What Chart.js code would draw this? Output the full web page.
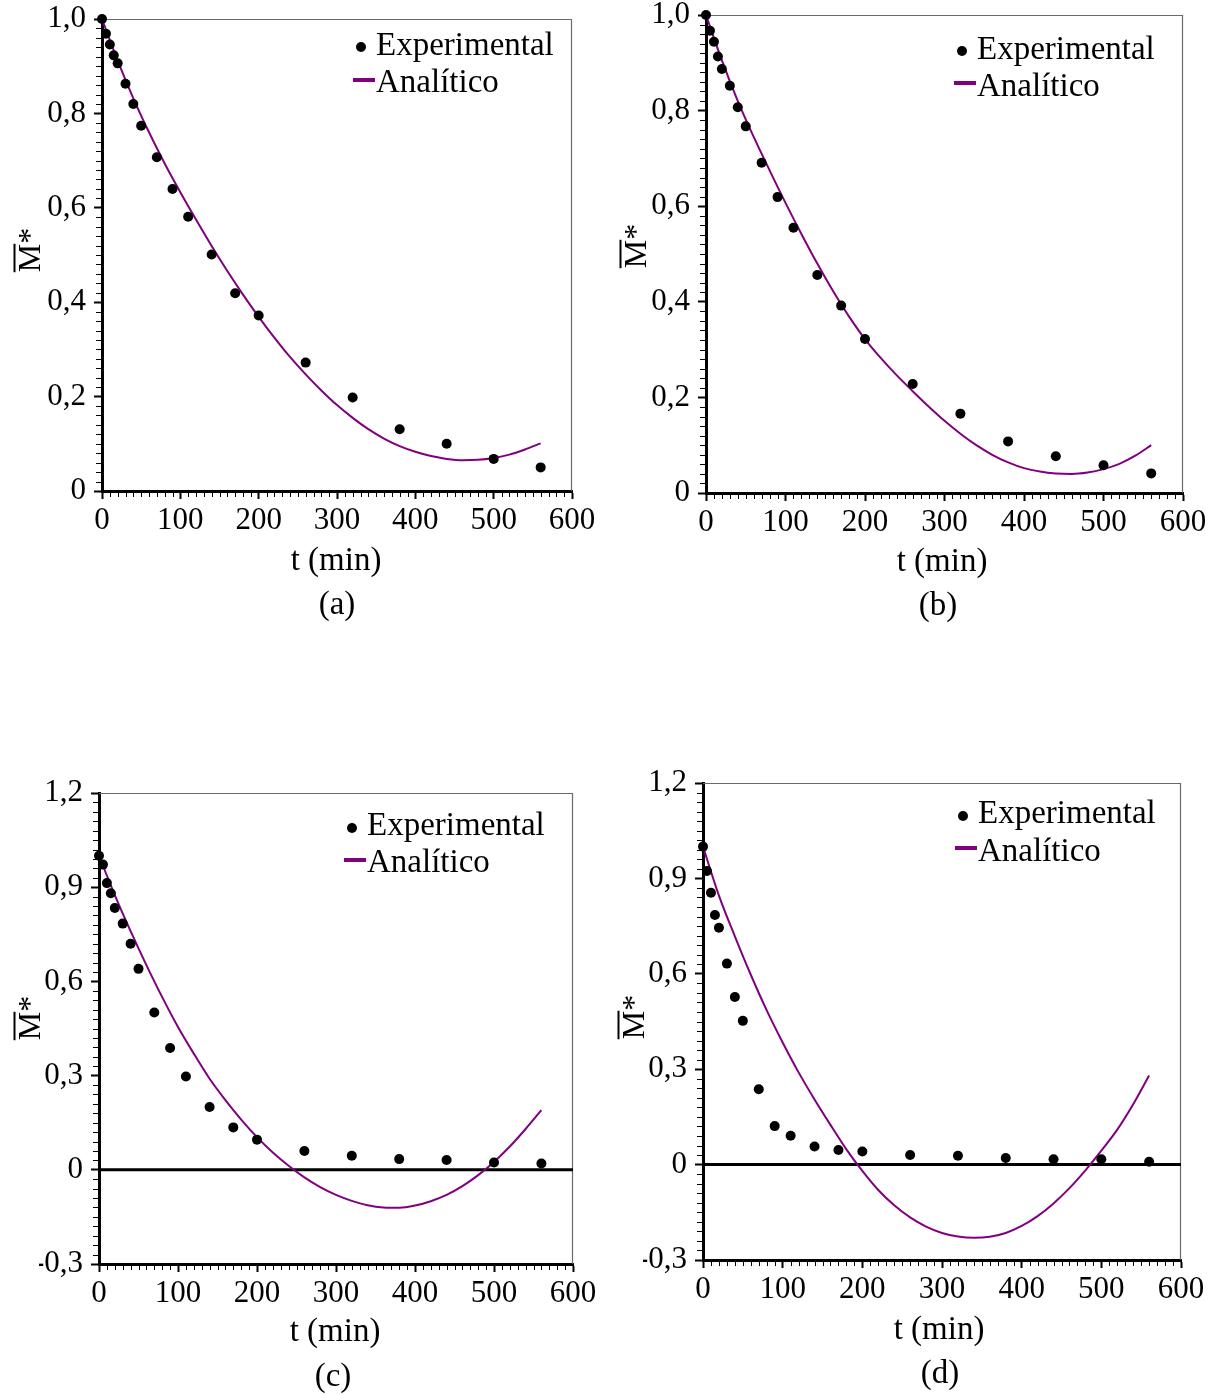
<!DOCTYPE html>
<html>
<head>
<meta charset="utf-8">
<script src="https://cdn.jsdelivr.net/npm/chart.js@4.4.1/dist/chart.umd.min.js"></script>
<style>
  html, body { margin: 0; padding: 0; background: #fff; }
  body { width: 1220px; height: 1395px; position: relative; overflow: hidden; }
  .panel { position: absolute; width: 610px; height: 720px; }
</style>
</head>
<body>
<div class="panel" style="left:0;top:-30px"><canvas id="chart-a" width="610" height="720"></canvas></div>
<div class="panel" style="left:610px;top:-30px"><canvas id="chart-b" width="610" height="720"></canvas></div>
<div class="panel" style="left:0;top:675px"><canvas id="chart-c" width="610" height="720"></canvas></div>
<div class="panel" style="left:610px;top:675px"><canvas id="chart-d" width="610" height="720"></canvas></div>
<script>
const SERIF = '"Liberation Serif", "Times New Roman", serif';

// measurement times (min)
const tExp = [0, 5, 10, 15, 20, 30, 40, 50, 70, 90, 110, 140, 170, 200, 260, 320, 380, 440, 500, 560];
const tAna = [0, 20, 40, 60, 80, 100, 120, 140, 160, 180, 200, 220, 240, 260, 280,
              300, 320, 340, 360, 380, 400, 420, 440, 460, 480, 500, 520, 540, 560];

const expA = [1.0, 0.969, 0.946, 0.923, 0.906, 0.863, 0.82, 0.774, 0.707, 0.64, 0.581, 0.501, 0.419, 0.372, 0.272, 0.198, 0.131, 0.100, 0.068, 0.050];
const anaA = [1.0, 0.912, 0.832, 0.76, 0.694, 0.633, 0.575, 0.519, 0.466, 0.416,
              0.369, 0.325, 0.284, 0.247, 0.213, 0.182, 0.155, 0.131, 0.111, 0.095,
              0.083, 0.074, 0.068, 0.065, 0.066, 0.070, 0.077, 0.088, 0.101];

const expB = [1.0, 0.967, 0.944, 0.913, 0.887, 0.852, 0.807, 0.767, 0.691, 0.619, 0.555, 0.456, 0.392, 0.322, 0.228, 0.166, 0.108, 0.077, 0.058, 0.041];
const anaB = [1.0, 0.905, 0.82, 0.745, 0.675, 0.607, 0.542, 0.48, 0.422, 0.369,
              0.322, 0.282, 0.246, 0.213, 0.181, 0.151, 0.124, 0.100, 0.080, 0.064,
              0.052, 0.045, 0.041, 0.040, 0.043, 0.050, 0.061, 0.078, 0.100];

const expC = [1.0, 0.972, 0.913, 0.881, 0.834, 0.784, 0.72, 0.64, 0.501, 0.388, 0.297, 0.2, 0.135, 0.096, 0.06, 0.045, 0.034, 0.031, 0.023, 0.02];
const anaC = [1.0, 0.875, 0.76, 0.652, 0.55, 0.455, 0.37, 0.29, 0.222, 0.16,
              0.104, 0.055, 0.013, -0.024, -0.055, -0.08, -0.099, -0.113, -0.12, -0.121,
              -0.114, -0.1, -0.08, -0.052, -0.017, 0.025, 0.074, 0.13, 0.19];

const expD = [1.0, 0.923, 0.855, 0.785, 0.745, 0.632, 0.527, 0.452, 0.237, 0.121, 0.091, 0.057, 0.046, 0.041, 0.03, 0.028, 0.021, 0.017, 0.017, 0.009];
const anaD = [1.0, 0.846, 0.718, 0.597, 0.485, 0.384, 0.29, 0.205, 0.125, 0.048,
              -0.02, -0.08, -0.128, -0.166, -0.195, -0.215, -0.226, -0.23, -0.227, -0.215,
              -0.193, -0.162, -0.122, -0.074, -0.018, 0.044, 0.11, 0.19, 0.28];

const seriesLabels = ['Experimental', 'Analítico'];
const xTitle = 't (min)';

// page layout of each panel (absolute page pixels)
const panels = [
  { id: 'chart-a', tag: '(a)', exp: expA, ana: anaA, ox: 0, oy: -30,
    plot: { left: 102, top: 19, right: 572, bottom: 491 },
    yMin: 0, yMax: 1.0, yStep: 0.2, yMinor: 0.02, zero: false,
    legend: { dotX: 361, dotY: 47, lineY: 80, base1: 55, base2: 92 },
    yTitle: { x: 40, cy: 250 }, xTitle: { x: 336, base: 570 }, tagPos: { x: 337, base: 614 } },
  { id: 'chart-b', tag: '(b)', exp: expB, ana: anaB, ox: 610, oy: -30,
    plot: { left: 706, top: 15, right: 1183, bottom: 493 },
    yMin: 0, yMax: 1.0, yStep: 0.2, yMinor: 0.02, zero: false,
    legend: { dotX: 962, dotY: 51, lineY: 83, base1: 59, base2: 96 },
    yTitle: { x: 646, cy: 246 }, xTitle: { x: 942, base: 571 }, tagPos: { x: 938, base: 615 } },
  { id: 'chart-c', tag: '(c)', exp: expC, ana: anaC, ox: 0, oy: 675,
    plot: { left: 99, top: 793, right: 573, bottom: 1264 },
    yMin: -0.3, yMax: 1.2, yStep: 0.3, yMinor: 0.03, zero: true,
    legend: { dotX: 352, dotY: 828, lineY: 860, base1: 835, base2: 872 },
    yTitle: { x: 40, cy: 1018 }, xTitle: { x: 335, base: 1341 }, tagPos: { x: 333, base: 1386 } },
  { id: 'chart-d', tag: '(d)', exp: expD, ana: anaD, ox: 610, oy: 675,
    plot: { left: 703, top: 783, right: 1181, bottom: 1260 },
    yMin: -0.3, yMax: 1.2, yStep: 0.3, yMinor: 0.03, zero: true,
    legend: { dotX: 963, dotY: 816, lineY: 848, base1: 823, base2: 861 },
    yTitle: { x: 644, cy: 1017 }, xTitle: { x: 939, base: 1339 }, tagPos: { x: 940, base: 1383 } }
];

const Y_SCALE_W = 60;
const X_SCALE_H = 50;

function fmtComma(v) {
  if (Math.abs(v) < 1e-9) return '0';
  return v.toFixed(1).replace('.', ',');
}

// frame, zero line, minor ticks, legend and texts
const panelDecor = {
  id: 'panelDecor',
  beforeDatasetsDraw(chart, args, p) {
    const { ctx, chartArea: a, scales: { x, y } } = chart;
    ctx.save();
    ctx.strokeStyle = '#6a6a6a';
    ctx.lineWidth = 1.2;
    ctx.beginPath();
    ctx.moveTo(a.left, a.top + 0.5);
    ctx.lineTo(a.right - 0.5, a.top + 0.5);
    ctx.lineTo(a.right - 0.5, a.bottom);
    ctx.stroke();

    if (p.zero) {
      const py = y.getPixelForValue(0);
      ctx.strokeStyle = '#000';
      ctx.lineWidth = 3;
      ctx.beginPath();
      ctx.moveTo(a.left, py);
      ctx.lineTo(a.right, py);
      ctx.stroke();
    }

    ctx.strokeStyle = '#000';
    ctx.lineWidth = 1;
    ctx.beginPath();
    for (let i = 1; i < 60; i++) {
      if (i % 10 === 0) continue;
      const px = Math.round(x.getPixelForValue(i * 10)) + 0.5;
      ctx.moveTo(px, a.bottom);
      ctx.lineTo(px, a.bottom + 6);
    }
    for (let i = 1; i < 50; i++) {
      if (i % 10 === 0) continue;
      const py = Math.round(y.getPixelForValue(p.yMin + i * p.yMinor)) + 0.5;
      ctx.moveTo(a.left - 6, py);
      ctx.lineTo(a.left, py);
    }
    ctx.stroke();
    ctx.restore();
  },
  afterDraw(chart, args, p) {
    const ctx = chart.ctx;
    const ox = p.ox, oy = p.oy;
    const lg = p.legend;
    ctx.save();
    ctx.fillStyle = '#000';

    // legend
    ctx.beginPath();
    ctx.arc(lg.dotX - ox, lg.dotY - oy, 5, 0, Math.PI * 2);
    ctx.fill();
    ctx.strokeStyle = '#800080';
    ctx.lineWidth = 4;
    ctx.beginPath();
    ctx.moveTo(lg.dotX - 8 - ox, lg.lineY - oy);
    ctx.lineTo(lg.dotX + 14 - ox, lg.lineY - oy);
    ctx.stroke();
    ctx.font = '33px ' + SERIF;
    ctx.textAlign = 'left';
    ctx.textBaseline = 'alphabetic';
    ctx.fillText(seriesLabels[0], lg.dotX + 15 - ox, lg.base1 - oy);
    ctx.fillText(seriesLabels[1], lg.dotX + 15 - ox, lg.base2 - oy);

    // x title and panel tag
    ctx.textAlign = 'center';
    ctx.fillText(xTitle, p.xTitle.x - ox, p.xTitle.base - oy);
    ctx.fillText(p.tag, p.tagPos.x - ox, p.tagPos.base - oy);

    // y title: M with overbar, then *
    ctx.translate(p.yTitle.x - ox, p.yTitle.cy - oy);
    ctx.rotate(-Math.PI / 2);
    ctx.font = '32px ' + SERIF;
    const w = ctx.measureText('M*').width;
    const wm = ctx.measureText('M').width;
    ctx.textAlign = 'left';
    ctx.fillText('M*', -w / 2, 0);
    ctx.strokeStyle = '#000';
    ctx.lineWidth = 2;
    ctx.beginPath();
    ctx.moveTo(-w / 2, -25.5);
    ctx.lineTo(-w / 2 + wm, -25.5);
    ctx.stroke();
    ctx.restore();
  }
};

function axisCommon() {
  return {
    grid: { drawOnChartArea: false, drawTicks: true, tickLength: 8, tickWidth: 2, tickColor: '#000' },
    border: { display: true, color: '#000', width: 3 }
  };
}

for (const p of panels) {
  const canvas = document.getElementById(p.id);
  const W = canvas.width, H = canvas.height;
  const pl = p.plot;
  const padding = {
    left: pl.left - p.ox - Y_SCALE_W,
    top: pl.top - p.oy,
    right: W - (pl.right - p.ox),
    bottom: H - (pl.bottom - p.oy) - X_SCALE_H
  };

  new Chart(canvas, {
    type: 'scatter',
    data: {
      datasets: [
        {
          label: seriesLabels[0],
          data: tExp.map((t, i) => ({ x: t, y: p.exp[i] })),
          backgroundColor: '#000',
          borderColor: '#000',
          pointRadius: 5,
          pointBorderWidth: 0,
          showLine: false,
          clip: false
        },
        {
          label: seriesLabels[1],
          data: tAna.map((t, i) => ({ x: t, y: p.ana[i] })),
          borderColor: '#800080',
          borderWidth: 2,
          pointRadius: 0,
          showLine: true,
          cubicInterpolationMode: 'monotone',
          clip: false
        }
      ]
    },
    options: {
      responsive: false,
      animation: false,
      events: [],
      layout: { padding },
      plugins: {
        legend: { display: false },
        tooltip: { enabled: false },
        panelDecor: p
      },
      scales: {
        x: {
          type: 'linear', position: 'bottom', min: 0, max: 600,
          ticks: { stepSize: 100, autoSkip: false, maxRotation: 0, padding: 3, color: '#000',
                   font: { family: SERIF, size: 31 } },
          ...axisCommon(),
          afterFit: s => { s.height = X_SCALE_H; }
        },
        y: {
          type: 'linear', position: 'left', min: p.yMin, max: p.yMax,
          ticks: { stepSize: p.yStep, autoSkip: false, padding: 8, color: '#000',
                   font: { family: SERIF, size: 31 }, callback: v => fmtComma(v) },
          ...axisCommon(),
          afterFit: s => { s.width = Y_SCALE_W; }
        }
      }
    },
    plugins: [panelDecor]
  });
}
</script>
</body>
</html>
